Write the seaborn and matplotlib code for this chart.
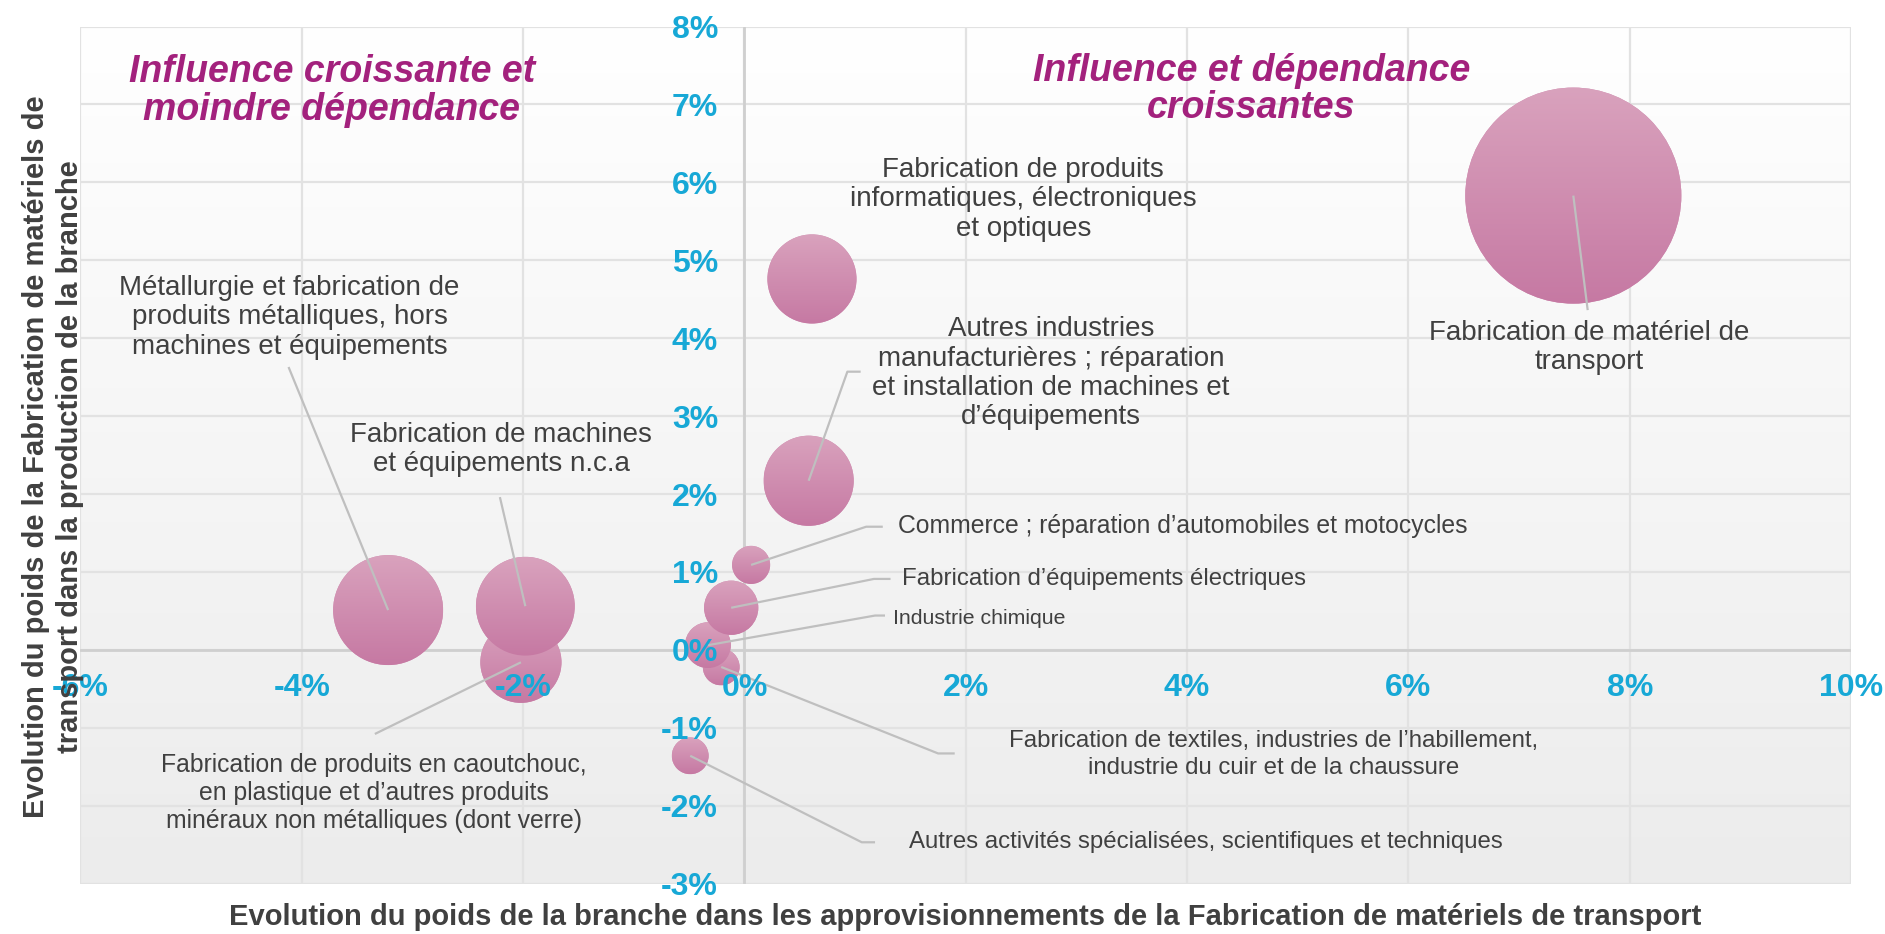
import numpy as np
import pandas as pd
import matplotlib
matplotlib.use('Agg')
import matplotlib.pyplot as plt
import seaborn as sns
from matplotlib.patches import Circle
from matplotlib.transforms import IdentityTransform
from matplotlib.colors import LinearSegmentedColormap

# Branches, dans l'ordre de tracé (les dernières passent devant)
branches = ['transport', 'informatique', 'autres_ind', 'metallurgie', 'caoutchouc',
            'machines', 'autres_act', 'commerce', 'textiles', 'chimie', 'electrique']
etiquettes = [
    "Fabrication de matériel de\ntransport",
    "Fabrication de produits\ninformatiques, électroniques\net optiques",
    "Autres industries\nmanufacturières ; réparation\net installation de machines et\nd’équipements",
    "Métallurgie et fabrication de\nproduits métalliques, hors\nmachines et équipements",
    "Fabrication de produits en caoutchouc,\nen plastique et d’autres produits\nminéraux non métalliques (dont verre)",
    "Fabrication de machines\net équipements n.c.a",
    "Autres activités spécialisées, scientifiques et techniques",
    "Commerce ; réparation d’automobiles et motocycles",
    "Fabrication de textiles, industries de l’habillement,\nindustrie du cuir et de la chaussure",
    "Industrie chimique",
    "Fabrication d’équipements électriques",
]
# Evolution du poids dans les approvisionnements (x, en %)
evol_appro = [7.49, 0.61, 0.58, -3.22, -2.02, -1.98, -0.49, 0.06, -0.21, -0.33, -0.12]
# Evolution du poids dans la production de la branche (y, en %)
evol_prod = [5.83, 4.76, 2.17, 0.51, -0.16, 0.56, -1.36, 1.09, -0.22, 0.06, 0.54]
# Taille des bulles (poids relatif)
poids = [100, 17.0, 17.4, 25.9, 14.1, 20.9, 2.9, 3.1, 2.9, 4.5, 6.3]

x_ticks = [-6, -4, -2, 0, 2, 4, 6, 8, 10]
y_ticks = [-3, -2, -1, 0, 1, 2, 3, 4, 5, 6, 7, 8]

# Placement des étiquettes et des traits de rappel
mise_en_page = {
    'transport':    dict(pos=(7.63, 3.88), ha='center', fs=20, ls=1.17, trait=[(7.62, 4.36)]),
    'informatique': dict(pos=(2.52, 5.78), ha='center', fs=20, ls=1.17, trait=None),
    'autres_ind':   dict(pos=(2.77, 3.55), ha='center', fs=20, ls=1.17, trait=[(0.93, 3.57), (1.05, 3.57)]),
    'metallurgie':  dict(pos=(-4.11, 4.27), ha='center', fs=20, ls=1.17, trait=[(-4.12, 3.63)]),
    'caoutchouc':   dict(pos=(-3.35, -1.84), ha='center', fs=17.8, ls=1.2, trait=[(-3.34, -1.08)]),
    'machines':     dict(pos=(-2.20, 2.57), ha='center', fs=20, ls=1.17, trait=[(-2.21, 1.96)]),
    'autres_act':   dict(pos=(1.49, -2.47), ha='left', fs=17.3, ls=1.2, trait=[(1.06, -2.47), (1.18, -2.47)]),
    'commerce':     dict(pos=(1.39, 1.59), ha='left', fs=17.8, ls=1.2, trait=[(1.10, 1.58), (1.25, 1.58)]),
    'textiles':     dict(pos=(4.78, -1.34), ha='center', fs=17.3, ls=1.3, trait=[(1.75, -1.33), (1.90, -1.33)]),
    'chimie':       dict(pos=(1.34, 0.40), ha='left', fs=15.3, ls=1.2, trait=[(1.18, 0.44), (1.27, 0.44)]),
    'electrique':   dict(pos=(1.42, 0.91), ha='left', fs=17.3, ls=1.2, trait=[(1.17, 0.91), (1.32, 0.91)]),
}

df = pd.DataFrame({'branche': branches, 'x': evol_appro, 'y': evol_prod, 'poids': poids})

sns.set_theme(style='white')
plt.rcParams['font.family'] = ['Liberation Sans', 'DejaVu Sans']

GRIS_TEXTE = '#404040'
CYAN = '#17A8D6'
VIOLET = '#A3217D'

fig = plt.figure(figsize=(18.85, 9.34), dpi=100)
ax = fig.add_axes([0.0427, 0.054, 0.9393, 0.9176])

# fond dégradé
fond = LinearSegmentedColormap.from_list('fond', ['#FFFFFF', '#ECECEC'])
ax.imshow(np.linspace(0, 1, 256).reshape(-1, 1), cmap=fond, aspect='auto',
          extent=(0, 1, 0, 1), transform=ax.transAxes, zorder=0)

# grille
for t in x_ticks:
    ax.axvline(t, color='#E2E2E2', lw=1.6, zorder=1)
for t in y_ticks:
    ax.axhline(t, color='#E2E2E2', lw=1.6, zorder=1)
ax.axvline(0, color='#CFCFCF', lw=2.0, zorder=1.2)
ax.axhline(0, color='#CFCFCF', lw=2.0, zorder=1.2)

ax.set_xlim(-6, 10)
ax.set_ylim(-3, 8)

sns.scatterplot(data=df, x='x', y='y', size='poids', sizes=(0, 24200), size_norm=(0, 100),
                color='#CF8CB0', linewidth=0, legend=False, ax=ax, zorder=3)
ax.set_xlim(-6, 10)
ax.set_ylim(-3, 8)

# dégradé vertical dans chaque bulle
bulle = LinearSegmentedColormap.from_list('bulle', ['#D9A2BD', '#C679A3'])
coll = ax.collections[-1]
tailles = coll.get_sizes()
inv = ax.transData.inverted()
for i, (xv, yv) in enumerate(zip(df['x'], df['y'])):
    s = tailles[i] if len(tailles) > 1 else tailles[0]
    r = np.sqrt(s) / 2 * fig.dpi / 72
    cx, cy = ax.transData.transform((xv, yv))
    (x0, y0), (x1, y1) = inv.transform([(cx - r, cy - r), (cx + r, cy + r)])
    im = ax.imshow(np.linspace(0, 1, 128).reshape(-1, 1), cmap=bulle, aspect='auto',
                   extent=(x0, x1, y0, y1), interpolation='bilinear', zorder=3 + i * 0.01)
    im.set_clip_path(Circle((cx, cy), r, transform=IdentityTransform()))
ax.set_xlim(-6, 10)
ax.set_ylim(-3, 8)

# étiquettes et traits de rappel
for i, b in enumerate(branches):
    m = mise_en_page[b]
    if m['trait']:
        xs = [df['x'][i]] + [p[0] for p in m['trait']]
        ys = [df['y'][i]] + [p[1] for p in m['trait']]
        ax.plot(xs, ys, color='#BFBFBF', lw=1.6, zorder=4, solid_capstyle='butt')
    ax.text(m['pos'][0], m['pos'][1], etiquettes[i], ha=m['ha'], va='center',
            fontsize=m['fs'], color=GRIS_TEXTE, linespacing=m['ls'], zorder=5)

# titres des quadrants
ax.text(-3.73, 7.17, 'Influence croissante et\nmoindre dépendance', ha='center', va='center',
        fontsize=27, fontweight='bold', fontstyle='italic', color=VIOLET, linespacing=1.05, zorder=5)
ax.text(4.58, 7.19, 'Influence et dépendance\ncroissantes', ha='center', va='center',
        fontsize=27, fontweight='bold', fontstyle='italic', color=VIOLET, linespacing=1.05, zorder=5)

# axes croisés en 0
for sp in ['top', 'right']:
    ax.spines[sp].set_visible(False)
ax.spines['left'].set_position(('data', 0))
ax.spines['bottom'].set_position(('data', 0))
ax.spines['left'].set_color('none')
ax.spines['bottom'].set_color('none')
ax.set_xticks(x_ticks)
ax.set_yticks(y_ticks)
ax.set_xticklabels([f'{t}%' for t in x_ticks])
ax.set_yticklabels([f'{t}%' for t in y_ticks])
ax.tick_params(axis='x', length=0, pad=17, labelsize=23, labelcolor=CYAN)
ax.tick_params(axis='y', length=0, pad=19, labelsize=23, labelcolor=CYAN)
for lab in ax.get_xticklabels() + ax.get_yticklabels():
    lab.set_fontweight('bold')
ax.xaxis.set_zorder(6)
ax.yaxis.set_zorder(6)
ax.set_xlabel('')
ax.set_ylabel('')

fig.text(0.512, 0.018, 'Evolution du poids de la branche dans les approvisionnements de la Fabrication de matériels de transport',
         ha='center', va='center', fontsize=21, fontweight='bold', color=GRIS_TEXTE)
fig.text(0.0282, 0.511, 'Evolution du poids de la Fabrication de matériels de\ntransport dans la production de la branche',
         ha='center', va='center', rotation=90, fontsize=21, fontweight='bold', color=GRIS_TEXTE,
         linespacing=1.3, zorder=10)

fig.savefig('out.png', dpi=100)
